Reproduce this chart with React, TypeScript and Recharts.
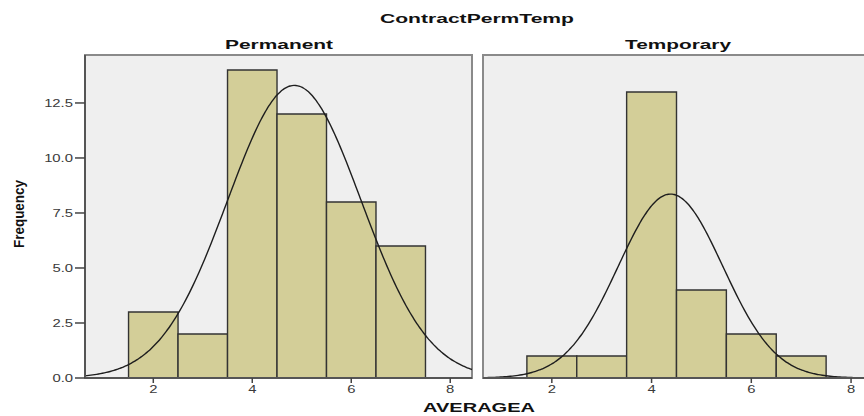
import React from "react";
import { ComposedChart, XAxis, YAxis, Line, ReferenceArea } from "recharts";

// ---- data ----
const binCenters = [2, 3, 4, 5, 6, 7];
const permanentCounts = [3, 2, 14, 12, 8, 6];
const temporaryCounts = [1, 1, 13, 4, 2, 1];
const xTicks = [2, 4, 6, 8];
const yTicks = [0, 2.5, 5, 7.5, 10, 12.5];
const permanentFit = { mean: 4.85, sd: 1.35, n: 45 };
const temporaryFit = { mean: 4.38, sd: 1.05, n: 22 };
const xDomain: [number, number] = [0.62, 8.44];
const yDomain: [number, number] = [0, 14.68];
const binWidth = 1;

const FONT = "'Liberation Sans', Arial, sans-serif";
const BAR_FILL = "#d3ce98";
const BAR_STROKE = "#333333";

function normalCurve(fit: { mean: number; sd: number; n: number }) {
  const pts: { x: number; y: number }[] = [];
  const steps = 200;
  for (let i = 0; i <= steps; i++) {
    const x = xDomain[0] + ((xDomain[1] - xDomain[0]) * i) / steps;
    const z = (x - fit.mean) / fit.sd;
    const y = (fit.n * binWidth) / (fit.sd * Math.sqrt(2 * Math.PI)) * Math.exp(-0.5 * z * z);
    pts.push({ x, y });
  }
  return pts;
}

const YTick = (props: any) => {
  const { x, y, payload } = props;
  return (
    <g transform={`translate(${x},${y})`}>
      <text transform="scale(1.35,1)" textAnchor="end" dy="0.36em" fill="#3a3a3a" fontSize={11} fontFamily={FONT}>
        {Number(payload.value).toFixed(1)}
      </text>
    </g>
  );
};

const XTick = (props: any) => {
  const { x, y, payload } = props;
  return (
    <g transform={`translate(${x},${y})`}>
      <text transform="scale(1.35,1)" textAnchor="middle" dy="0.71em" fill="#3a3a3a" fontSize={11} fontFamily={FONT}>
        {payload.value}
      </text>
    </g>
  );
};

function Panel({ counts, fit, showY }: { counts: number[]; fit: any; showY: boolean }) {
  const curve = normalCurve(fit);
  return (
    <ComposedChart
      width={showY ? 480 : 440}
      height={416}
      margin={showY ? { top: 55, right: 8, bottom: 8, left: 25 } : { top: 55, right: 7, bottom: 8, left: 43 }}
      data={curve}
    >
      <XAxis
        type="number"
        dataKey="x"
        domain={xDomain}
        ticks={xTicks}
        allowDataOverflow
        height={30}
        tickSize={5}
        tickMargin={2}
        tickLine={{ stroke: "#444", strokeWidth: 1.5 }}
        axisLine={{ stroke: "#555", strokeWidth: 2 }}
        tick={<XTick />}
        interval={0}
      />
      {showY ? (
        <YAxis
          type="number"
          domain={yDomain}
          ticks={yTicks}
          allowDataOverflow
          width={60}
          tickSize={10}
          tickMargin={2}
          tickLine={{ stroke: "#444", strokeWidth: 1.5 }}
          axisLine={{ stroke: "#555", strokeWidth: 2 }}
          tick={<YTick />}
          interval={0}
        />
      ) : (
        <YAxis
          type="number"
          domain={yDomain}
          ticks={yTicks}
          allowDataOverflow
          width={0}
          tick={false}
          tickLine={false}
          axisLine={{ stroke: "#555", strokeWidth: 2 }}
        />
      )}
      <ReferenceArea
        x1={xDomain[0]}
        x2={xDomain[1]}
        y1={yDomain[0]}
        y2={yDomain[1]}
        fill="#efefef"
        fillOpacity={1}
        stroke="#8a8a8a"
        strokeWidth={2}
        ifOverflow="visible"
      />
      {binCenters.map((c, i) => (
        <ReferenceArea
          key={c}
          x1={c - binWidth / 2}
          x2={c + binWidth / 2}
          y1={0}
          y2={counts[i]}
          fill={BAR_FILL}
          fillOpacity={1}
          stroke={BAR_STROKE}
          strokeWidth={1.4}
          ifOverflow="visible"
        />
      ))}
      <Line
        dataKey="y"
        type="monotone"
        stroke="#1e1e1e"
        strokeWidth={1.4}
        dot={false}
        activeDot={false}
        isAnimationActive={false}
      />
    </ComposedChart>
  );
}

export default function App() {
  return (
    <div
      style={{
        position: "absolute",
        left: 0,
        top: 0,
        width: 864,
        height: 416,
        overflow: "hidden",
        background: "#fff",
        fontFamily: FONT,
      }}
    >
      <div style={{ position: "absolute", left: 0, top: 0 }}>
        <Panel counts={permanentCounts} fit={permanentFit} showY={true} />
      </div>
      <div style={{ position: "absolute", left: 440, top: 0 }}>
        <Panel counts={temporaryCounts} fit={temporaryFit} showY={false} />
      </div>
      <svg width={864} height={416} style={{ position: "absolute", left: 0, top: 0, pointerEvents: "none" }}>
        <text x={477} y={23} textAnchor="middle" fontSize={13} fontWeight="bold" fontFamily={FONT} fill="#111" textLength={194} lengthAdjust="spacingAndGlyphs">
          ContractPermTemp
        </text>
        <text x={279} y={49} textAnchor="middle" fontSize={13} fontWeight="bold" fontFamily={FONT} fill="#111" textLength={108} lengthAdjust="spacingAndGlyphs">
          Permanent
        </text>
        <text x={678} y={49} textAnchor="middle" fontSize={13} fontWeight="bold" fontFamily={FONT} fill="#111" textLength={106} lengthAdjust="spacingAndGlyphs">
          Temporary
        </text>
        <text x={479} y={412} textAnchor="middle" fontSize={13} fontWeight="bold" fontFamily={FONT} fill="#111" textLength={112} lengthAdjust="spacingAndGlyphs">
          AVERAGEA
        </text>
        <text
          transform="translate(24,214) rotate(-90)"
          textAnchor="middle"
          fontSize={15}
          fontWeight="bold"
          fontFamily={FONT}
          fill="#111"
          textLength={68}
          lengthAdjust="spacingAndGlyphs"
        >
          Frequency
        </text>
      </svg>
    </div>
  );
}
